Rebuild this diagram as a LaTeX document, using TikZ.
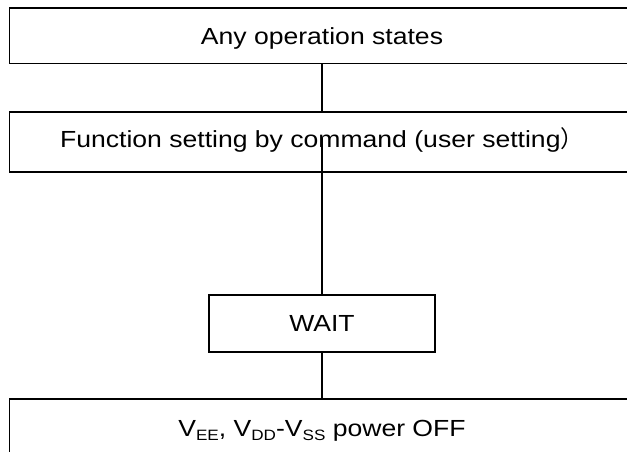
\documentclass[tikz,border=0pt]{standalone}
\usepackage{fontspec}
\setmainfont[FakeStretch=1.14]{Liberation Sans}
\newfontfamily\cjkfont{Noto Sans CJK SC}
\newcommand\subtxt[1]{\raisebox{-4pt}{\fontsize{15}{15}\selectfont #1}}
\begin{document}
\begin{tikzpicture}[x=1pt,y=-1pt,
  box/.style={draw=black, line width=1.6pt, rectangle, inner sep=0pt,
    font=\fontsize{23.3}{26}\selectfont, text height=17pt, text depth=0pt},
  link/.style={draw=black, line width=1.6pt}]
\useasboundingbox (0,0) rectangle (627,452);
\fill[white] (0,0) rectangle (627,452);
\begin{scope}
\clip (0,0) rectangle (627,452);
\node[box, minimum width=625pt, minimum height=55.5pt] (b1) at (322,35.75) {Any operation states};
\node[box, minimum width=625pt, minimum height=60pt, text depth=5.6pt] (b2) at (322,142) {Function setting by command (user setting{\cjkfont ）}};
\node[box, minimum width=226pt, minimum height=57pt, text depth=2pt] (w) at (322,323.5) {WAIT};
\node[box, minimum width=625pt, minimum height=55pt, text height=19pt] (b4) at (322,426.5) {V\subtxt{EE}, V\subtxt{DD}-V\subtxt{SS} power OFF};
\coordinate (l2s) at (322,138);
\draw[link] (b1.south) -- (b2.north);
\draw[link] (l2s) -- (w.north);
\draw[link] (w.south) -- (b4.north);
\end{scope}
\end{tikzpicture}
\end{document}
